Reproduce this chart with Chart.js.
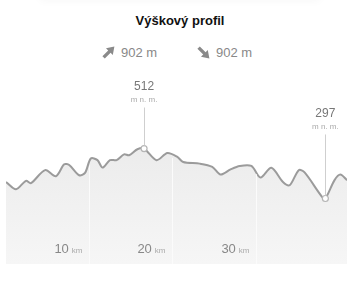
<!DOCTYPE html>
<html>
<head>
<meta charset="utf-8">
<script src="https://cdn.jsdelivr.net/npm/chart.js@4/dist/chart.umd.min.js"></script>
<style>
  body { margin: 0; background: #fff; font-family: "Liberation Sans", Arial, sans-serif; }
  #wrap { position: relative; width: 360px; height: 291px; overflow: hidden; }
  #shade { position: absolute; left: 40px; right: 40px; top: -10px; height: 10px; box-shadow: 0 1px 8px rgba(0,0,0,0.035); }
  #title { position: absolute; top: 13px; left: 0; width: 360px; text-align: center; font-weight: bold; font-size: 13px; color: #111; }
  .stat { position: absolute; top: 45px; font-size: 13px; color: #888; line-height: 16px; }
  .stat svg { vertical-align: -2px; margin-right: 6px; }
  canvas { position: absolute; left: 0; top: 0; }
</style>
</head>
<body>
<div id="wrap">
  <div id="shade"></div>
  <div id="title">Výškový profil</div>
  <div class="stat" style="left:102px"><svg width="13" height="13" viewBox="0 0 13 13"><path d="M2.8 12.6 L0.4 10.2 L6.2 4.4 L4 2.2 L12.4 0.6 L10.8 9 L8.6 6.8 Z" fill="#8a8a8a"/></svg>902 m</div>
  <div class="stat" style="left:197px"><svg width="13" height="13" viewBox="0 0 13 13"><path d="M2.8 0.4 L0.4 2.8 L6.2 8.6 L4 10.8 L12.4 12.4 L10.8 4 L8.6 6.2 Z" fill="#8a8a8a"/></svg>902 m</div>
  <canvas id="profil" width="360" height="291"></canvas>
</div>
<script>
const km = [0, 1.2, 2.4, 3.0, 4.7, 6.0, 7.0, 7.6, 8.8, 9.5, 10.2, 11.0, 11.6, 12.5, 13.3, 14.2, 14.8, 15.8, 16.6, 18.1,
  19.4, 20.6, 21.3, 23.3, 24.8, 25.8, 27.0, 28.1, 29.5, 30.6, 31.9, 33.3, 34.1, 35.2, 35.9, 38.0, 38.4, 39.5, 40.2, 41.0];
const vyska = [368, 337, 373, 363, 419, 393, 444, 441, 397, 407, 469, 462, 430, 462, 462, 487, 483, 509, 512, 462,
  493, 476, 454, 447, 433, 400, 422, 437, 437, 387, 429, 368, 354, 419, 409, 304, 297, 376, 400, 376];
const kmTicks = [10, 20, 30];

const maxIdx = vyska.indexOf(Math.max(...vyska));
const minIdx = vyska.indexOf(Math.min(...vyska));

// labels for highest / lowest point, offset in px above the point
const extremes = [
  { i: maxIdx, up: 62 },
  { i: minIdx, up: 85 }
];

const profilPlugin = {
  id: 'profil',
  afterDatasetsDraw(chart) {
    const ctx = chart.ctx;
    const x = chart.scales.x, y = chart.scales.y;
    const area = chart.chartArea;
    const pts = chart.getDatasetMeta(0).data;

    // grid lines under the curve
    ctx.save();
    ctx.strokeStyle = '#fbfbfb';
    ctx.lineWidth = 1;
    kmTicks.forEach(t => {
      const px = Math.round(x.getPixelForValue(t)) + 0.5;
      let j = 0;
      while (j < km.length - 1 && km[j + 1] < t) j++;
      const f = (t - km[j]) / (km[j + 1] - km[j]);
      const v = vyska[j] + f * (vyska[j + 1] - vyska[j]);
      ctx.beginPath();
      ctx.moveTo(px, y.getPixelForValue(v) + 3);
      ctx.lineTo(px, area.bottom);
      ctx.stroke();

      // tick label
      ctx.textBaseline = 'alphabetic';
      ctx.textAlign = 'right';
      ctx.font = '8px "Liberation Sans", Arial';
      ctx.fillStyle = '#aaa';
      ctx.fillText('km', px - 7, 253);
      const w = ctx.measureText('km').width;
      ctx.font = '13px "Liberation Sans", Arial';
      ctx.fillStyle = '#888';
      ctx.fillText(String(t), px - 10 - w, 253);
    });

    // extremes
    extremes.forEach(e => {
      const p = pts[e.i];
      const top = p.y - e.up;
      ctx.strokeStyle = '#cfcfcf';
      ctx.beginPath();
      ctx.moveTo(Math.round(p.x) + 0.5, p.y - 3);
      ctx.lineTo(Math.round(p.x) + 0.5, top + 21);
      ctx.stroke();
      ctx.textAlign = 'center';
      ctx.textBaseline = 'middle';
      ctx.font = '12px "Liberation Sans", Arial';
      ctx.fillStyle = '#777';
      ctx.fillText(String(vyska[e.i]), p.x, top);
      ctx.font = '8px "Liberation Sans", Arial';
      ctx.fillStyle = '#aaa';
      ctx.fillText('m n. m.', p.x, top + 13);
    });
    ctx.restore();
  }
};

new Chart(document.getElementById('profil'), {
  type: 'line',
  data: {
    datasets: [{
      data: km.map((k, i) => ({ x: k, y: vyska[i] })),
      borderColor: '#9b9b9b',
      borderWidth: 2,
      tension: 0.3,
      fill: 'start',
      backgroundColor: (c) => {
        const a = c.chart.chartArea;
        if (!a) return '#efefef';
        const g = c.chart.ctx.createLinearGradient(0, a.top + 80, 0, a.bottom);
        g.addColorStop(0, '#ececec');
        g.addColorStop(1, '#f6f6f6');
        return g;
      },
      pointRadius: (c) => (c.dataIndex === maxIdx || c.dataIndex === minIdx) ? 3 : 0,
      pointBackgroundColor: '#fff',
      pointBorderColor: '#b5b5b5',
      pointBorderWidth: 1.2
    }]
  },
  options: {
    responsive: false,
    animation: false,
    layout: { padding: { left: 6, right: 13, top: 70, bottom: 27 } },
    plugins: { legend: { display: false }, tooltip: { enabled: false } },
    scales: {
      x: { type: 'linear', min: 0, max: 41, display: false },
      y: { min: 15, max: 850, display: false }
    }
  },
  plugins: [profilPlugin]
});
</script>
</body>
</html>
